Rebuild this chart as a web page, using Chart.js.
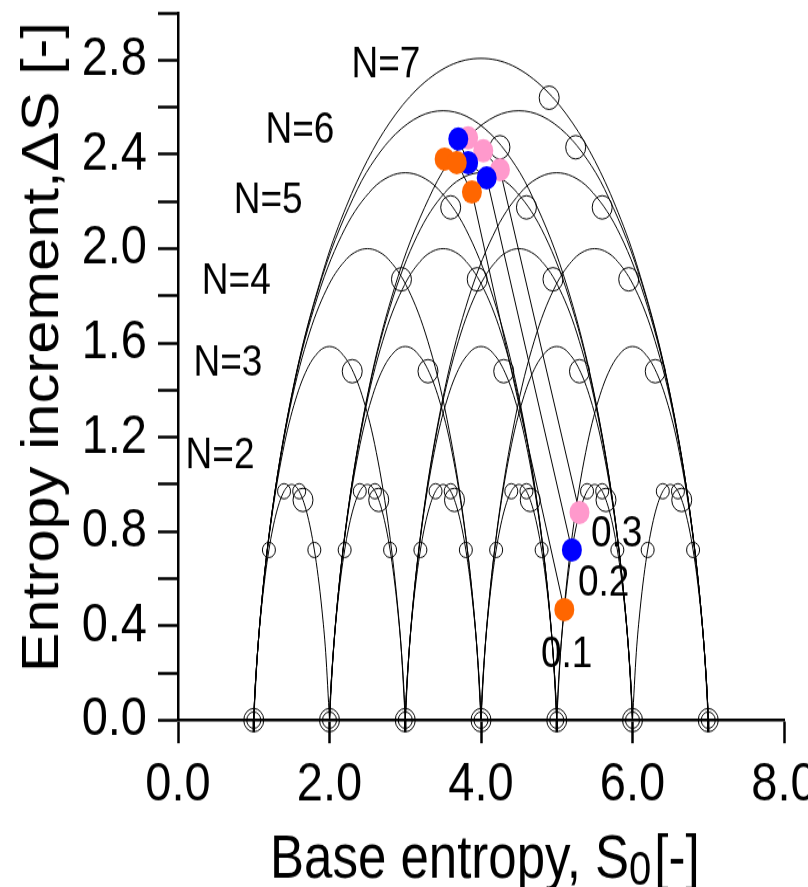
<!DOCTYPE html>
<html>
<head>
<meta charset="utf-8">
<script src="https://cdn.jsdelivr.net/npm/chart.js@4.4.1/dist/chart.umd.min.js"></script>
<style>
  html, body { margin: 0; padding: 0; background: #fff; overflow: hidden; }
  #wrap { width: 808px; height: 887px; overflow: hidden; }
  /* the reference is stretched a little in height, so the canvas is too */
  #grafik { display: block; transform: scaleY(1.1702); transform-origin: 0 0; }
</style>
</head>
<body>
<div id="wrap"><canvas id="grafik" width="830" height="758"></canvas></div>
<script>
// 1. Data

// integer base entropies where the arcs start and end
const baseStarts = [1, 2, 3, 4, 5, 6, 7];

// shape of one arc for each N: offset from the arc start, entropy increment
const n2Dx = [0, 0.05, 0.10, 0.15, 0.20, 0.25, 0.30, 0.35, 0.40, 0.45, 0.50, 0.55, 0.60, 0.65, 0.70, 0.75, 0.80, 0.85, 0.90, 0.95, 1.00];
const n2Dy = [0, 0.286, 0.469, 0.610, 0.722, 0.811, 0.881, 0.934, 0.971, 0.993, 1.000, 0.993, 0.971, 0.934, 0.881, 0.811, 0.722, 0.610, 0.469, 0.286, 0];

const n3Dx = [0, 0.010, 0.041, 0.108, 0.226, 0.404, 0.571, 0.721, 0.853, 0.930, 1.000, 1.070, 1.147, 1.279, 1.429, 1.596, 1.774, 1.892, 1.959, 1.990, 2.000];
const n3Dy = [0, 0.082, 0.251, 0.510, 0.835, 1.171, 1.379, 1.500, 1.561, 1.580, 1.585, 1.580, 1.561, 1.500, 1.379, 1.171, 0.835, 0.510, 0.251, 0.082, 0];

const n4Dx = [0, 0.010, 0.042, 0.111, 0.244, 0.478, 0.733, 0.988, 1.225, 1.369, 1.500, 1.631, 1.775, 2.012, 2.267, 2.522, 2.756, 2.889, 2.958, 2.990, 3.000];
const n4Dy = [0, 0.082, 0.252, 0.520, 0.885, 1.323, 1.640, 1.845, 1.956, 1.990, 2.000, 1.990, 1.956, 1.845, 1.640, 1.323, 0.885, 0.520, 0.252, 0.082, 0];

const n5Dx = [0, 0.010, 0.042, 0.111, 0.248, 0.512, 0.839, 1.201, 1.563, 1.790, 2.000, 2.210, 2.437, 2.799, 3.161, 3.488, 3.752, 3.889, 3.958, 3.990, 4.000];
const n5Dy = [0, 0.082, 0.252, 0.521, 0.898, 1.390, 1.793, 2.083, 2.252, 2.306, 2.322, 2.306, 2.252, 2.083, 1.793, 1.390, 0.898, 0.521, 0.252, 0.082, 0];

const n6Dx = [0, 0.010, 0.042, 0.111, 0.250, 0.527, 0.905, 1.368, 1.600, 1.868, 2.195, 2.500, 2.805, 3.132, 3.400, 3.632, 4.095, 4.473, 4.750, 4.889, 4.958, 4.990, 5.000];
const n6Dy = [0, 0.082, 0.252, 0.521, 0.901, 1.418, 1.882, 2.252, 2.379, 2.485, 2.562, 2.585, 2.562, 2.485, 2.379, 2.252, 1.882, 1.418, 0.901, 0.521, 0.252, 0.082, 0];

const n7Dx = [0, 0.010, 0.042, 0.111, 0.250, 0.534, 0.945, 1.223, 1.496, 1.791, 2.142, 2.582, 3.000, 3.418, 3.858, 4.209, 4.504, 4.777, 5.055, 5.466, 5.750, 5.889, 5.958, 5.990, 6.000];
const n7Dy = [0, 0.082, 0.252, 0.521, 0.902, 1.430, 1.934, 2.180, 2.372, 2.533, 2.672, 2.776, 2.807, 2.776, 2.672, 2.533, 2.372, 2.180, 1.934, 1.430, 0.902, 0.521, 0.252, 0.082, 0];

// small open circles on every N=2 arc
const smallDx = [0.2, 0.4, 0.6, 0.8];
const smallDy = [0.722, 0.971, 0.971, 0.722];

// large open circles, one per arc, for N = 2..7
const bigN = [2, 3, 4, 5, 6, 7];
const bigDx = [0.65, 1.30, 1.95, 2.60, 3.25, 3.90];
const bigDy = [0.934, 1.48, 1.87, 2.175, 2.43, 2.64];

// coloured points (three near the top, one on the N=2 arc)
const orangeX = [3.52, 3.68, 3.88, 5.10];
const orangeY = [2.38, 2.365, 2.24, 0.469];
const blueX = [3.70, 3.83, 4.075, 5.20];
const blueY = [2.465, 2.365, 2.30, 0.722];
const pinkX = [3.83, 4.03, 4.25, 5.30];
const pinkY = [2.47, 2.415, 2.335, 0.881];

// tick labels
const xTickValues = [0, 2, 4, 6, 8];
const xMinorTicks = [1, 3, 5, 7];
const yLabelEvery = 0.4;

// text on the plot
const curveLabels = [
    { text: 'N=7', x: 2.744, y: 2.78 },
    { text: 'N=6', x: 1.61, y: 2.50 },
    { text: 'N=5', x: 1.19, y: 2.20 },
    { text: 'N=4', x: 0.77, y: 1.86 },
    { text: 'N=3', x: 0.66, y: 1.51 },
    { text: 'N=2', x: 0.555, y: 1.12 },
    { text: '0.3', x: 5.79, y: 0.787 },
    { text: '0.2', x: 5.62, y: 0.577 },
    { text: '0.1', x: 5.13, y: 0.278 }
];

// 2. Helpers
const FONT = '"Liberation Sans", Arial, sans-serif';
const NARROW = '"Liberation Sans Narrow", "Arial Narrow", "Liberation Sans", sans-serif';

function toPoints(xs, ys, shift) {
    return xs.map((x, i) => ({ x: x + shift, y: ys[i] }));
}

function markerSet(points, radius) {
    return {
        data: points,
        showLine: false,
        pointStyle: 'circle',
        pointRadius: radius,
        pointBackgroundColor: 'rgba(0,0,0,0)',
        pointBorderColor: '#000',
        pointBorderWidth: 1,
        clip: false
    };
}

function colouredSet(xs, ys, colour) {
    return {
        data: toPoints(xs, ys, 0),
        showLine: true,
        borderColor: '#000',
        borderWidth: 1,
        tension: 0,
        pointRadius: 10,
        pointBackgroundColor: colour,
        pointBorderWidth: 0,
        clip: false
    };
}

// 3. Build the datasets (first one is drawn on top)
const datasets = [
    colouredSet(orangeX, orangeY, '#ff6600'),
    colouredSet(blueX, blueY, '#0000ff'),
    colouredSet(pinkX, pinkY, '#ff99cc')
];

const lastBase = baseStarts[baseStarts.length - 1];
const zeroPoints = baseStarts.map(b => ({ x: b, y: 0 }));
datasets.push(markerSet(zeroPoints, 10));
datasets.push(markerSet(zeroPoints, 7));

const bigPoints = [];
const smallPoints = [];
bigN.forEach((n, k) => {
    baseStarts.forEach(b => {
        if (b + n - 1 > lastBase) return;
        bigPoints.push({ x: b + bigDx[k], y: bigDy[k] });
        if (n === 2) smallPoints.push(...toPoints(smallDx, smallDy, b));
    });
});
datasets.push(markerSet(bigPoints, 10));
datasets.push(markerSet(smallPoints, 6.5));

const shapes = [
    { n: 2, dx: n2Dx, dy: n2Dy },
    { n: 3, dx: n3Dx, dy: n3Dy },
    { n: 4, dx: n4Dx, dy: n4Dy },
    { n: 5, dx: n5Dx, dy: n5Dy },
    { n: 6, dx: n6Dx, dy: n6Dy },
    { n: 7, dx: n7Dx, dy: n7Dy }
];
shapes.forEach(s => {
    baseStarts.forEach(b => {
        if (b + s.n - 1 > lastBase) return;
        datasets.push({
            data: toPoints(s.dx, s.dy, b),
            showLine: true,
            borderColor: '#000',
            borderWidth: 1,
            pointRadius: 0,
            cubicInterpolationMode: 'monotone',
            fill: false,
            clip: false
        });
    });
});

// 4. Titles, curve labels and the short ticks drawn with the scales
const extraText = {
    id: 'extraText',
    afterDraw(chart) {
        const ctx = chart.ctx;
        const xs = chart.scales.x;
        const ys = chart.scales.y;
        const area = chart.chartArea;
        ctx.save();

        ctx.strokeStyle = '#000';
        ctx.lineWidth = 2.5;
        xMinorTicks.forEach(v => {
            const px = xs.getPixelForValue(v);
            ctx.beginPath();
            ctx.moveTo(px, area.bottom);
            ctx.lineTo(px, area.bottom + 10.3);
            ctx.stroke();
        });

        ctx.fillStyle = '#000';
        ctx.textAlign = 'center';
        ctx.textBaseline = 'middle';
        ctx.font = '37px ' + FONT;
        curveLabels.forEach(l => {
            ctx.fillText(l.text, xs.getPixelForValue(l.x), ys.getPixelForValue(l.y));
        });

        // x axis title with subscript
        ctx.textAlign = 'left';
        ctx.textBaseline = 'alphabetic';
        let tx = 270;
        const ty = 749.5;
        ctx.font = '51px ' + FONT;
        ctx.fillText('Base entropy, S', tx, ty);
        tx += ctx.measureText('Base entropy, S').width;
        ctx.font = '40px ' + FONT;
        ctx.fillText('0', tx, ty + 6);
        tx += ctx.measureText('0').width + 3;
        ctx.font = '51px ' + FONT;
        ctx.fillText('[-]', tx, ty);

        // y axis title
        ctx.translate(58, 296.6);
        ctx.rotate(-Math.PI / 2);
        ctx.textAlign = 'center';
        ctx.fillText('Entropy increment,\u0394S [-]', 0, 0);

        ctx.restore();
    }
};

// 5. Chart
new Chart(document.getElementById('grafik').getContext('2d'), {
    type: 'scatter',
    data: { datasets: datasets },
    plugins: [extraText],
    options: {
        responsive: false,
        animation: false,
        devicePixelRatio: 1,
        events: [],
        layout: { padding: { left: 0, top: 6.4, right: 46, bottom: 0 } },
        plugins: {
            legend: { display: false },
            tooltip: { enabled: false }
        },
        scales: {
            x: {
                type: 'linear',
                min: 0,
                max: 8,
                afterFit(scale) {
                    scale.height = 142.6;
                    scale.paddingLeft = 0;
                    scale.paddingRight = 0;
                },
                afterBuildTicks(scale) {
                    scale.ticks = xTickValues.map(v => ({ value: v }));
                },
                ticks: {
                    autoSkip: false,
                    maxRotation: 0,
                    padding: 8,
                    color: '#000',
                    font: { family: NARROW, size: 47 },
                    callback: v => Number(v).toFixed(1)
                },
                grid: {
                    display: true,
                    drawOnChartArea: false,
                    drawTicks: true,
                    tickLength: 19.7,
                    tickWidth: 2.5,
                    tickColor: '#000'
                },
                border: { display: true, color: '#000', width: 2.5 }
            },
            y: {
                type: 'linear',
                min: 0,
                max: 3,
                afterFit(scale) {
                    scale.width = 178;
                    scale.paddingTop = 0;
                    scale.paddingBottom = 0;
                },
                ticks: {
                    stepSize: 0.2,
                    autoSkip: false,
                    padding: 11,
                    color: '#000',
                    font: { family: NARROW, size: 47 },
                    callback: v => {
                        const k = Math.round(v / yLabelEvery * 2);
                        return (k % 2 === 0 && v < 2.95) ? Number(v).toFixed(1) : '';
                    }
                },
                grid: {
                    display: true,
                    drawOnChartArea: false,
                    drawTicks: true,
                    tickLength: 20,
                    tickWidth: 2.5,
                    tickColor: '#000'
                },
                border: { display: true, color: '#000', width: 2.5 }
            }
        }
    }
});
</script>
</body>
</html>
